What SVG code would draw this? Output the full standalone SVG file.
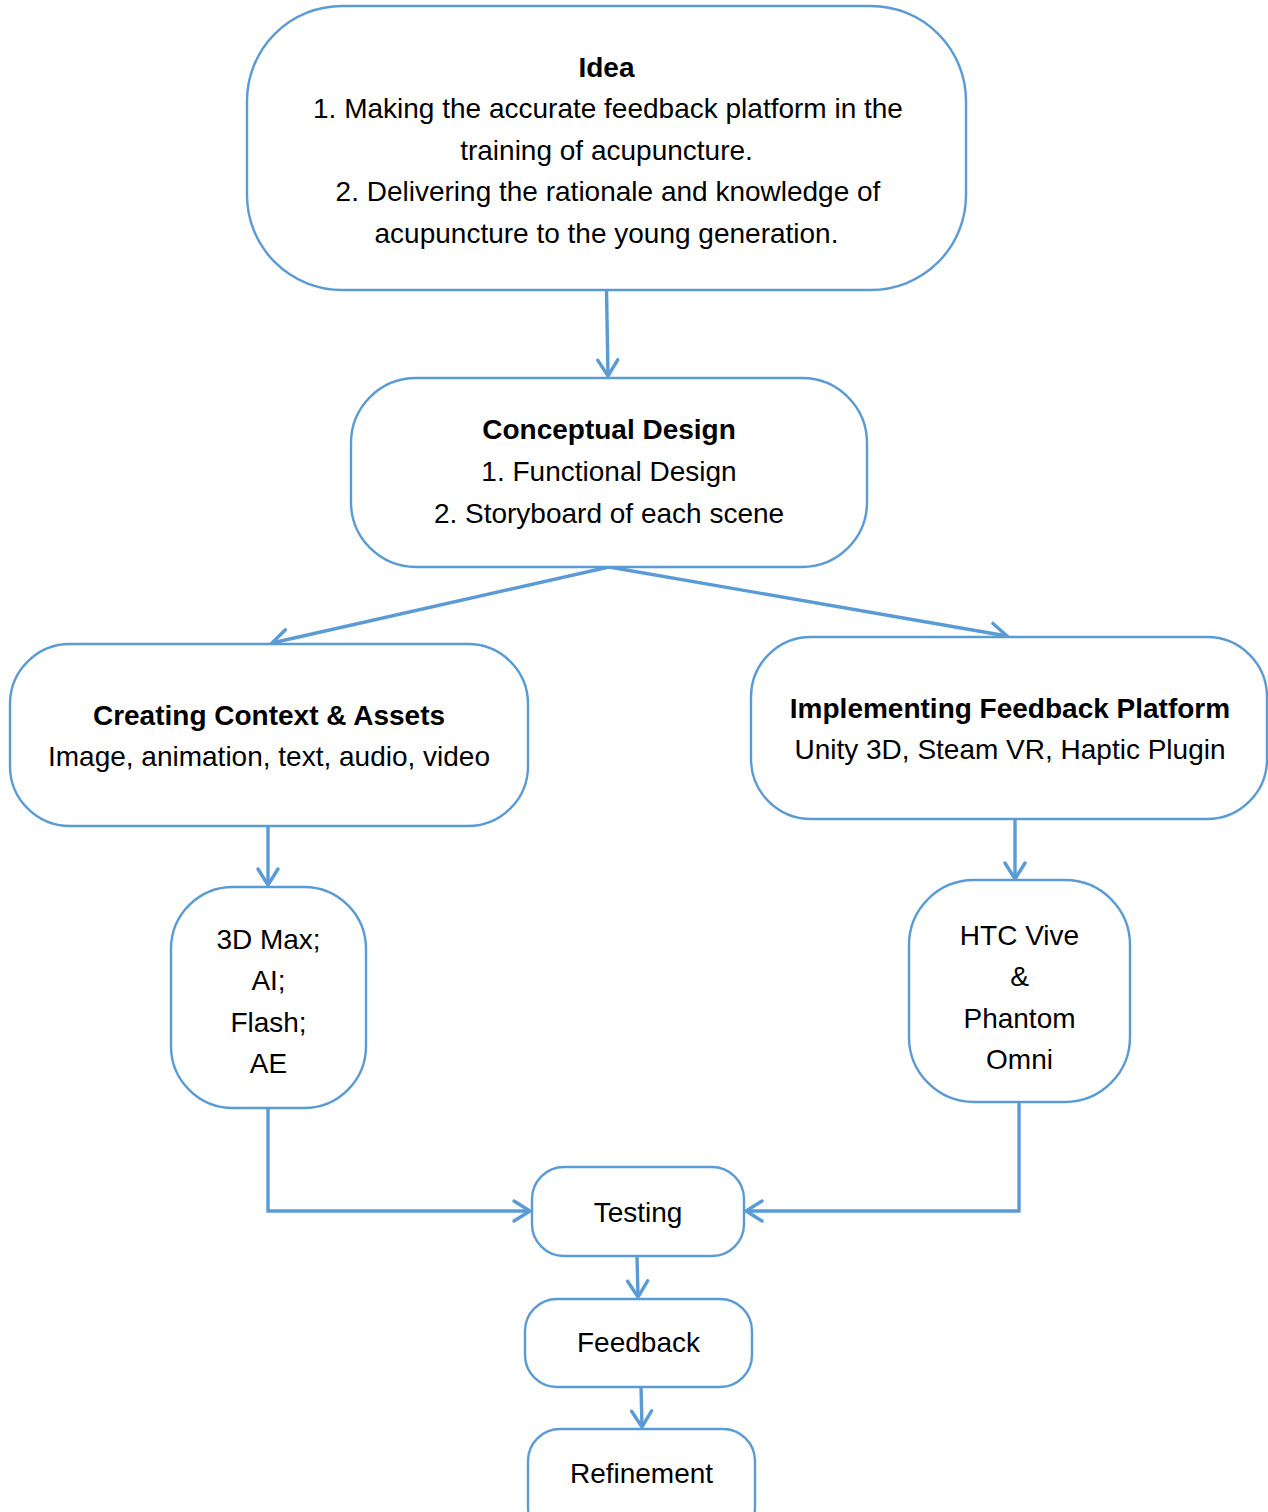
<svg xmlns="http://www.w3.org/2000/svg" width="1268" height="1512" viewBox="0 0 1268 1512">
<style>
.box{fill:#fff;stroke:#5b9bd5;stroke-width:2.4}
.c{fill:none;stroke:#5b9bd5;stroke-width:3.4}
text{font-family:"Liberation Sans",Arial,sans-serif;font-size:28px;fill:#000;text-anchor:middle}
.b{font-weight:bold}
</style>
<defs>
<marker id="ah" markerUnits="userSpaceOnUse" markerWidth="30" markerHeight="30" viewBox="-20 -15 25 30" refX="0" refY="0" orient="auto">
<path d="M-16,-10 L0,0 L-16,10" fill="none" stroke="#5b9bd5" stroke-width="3.4" stroke-linecap="round" stroke-linejoin="miter"/>
</marker>
</defs>
<rect width="1268" height="1512" fill="#fff"/>
<g id="connectors">
<path class="c" d="M606.5,290 L608,376" marker-end="url(#ah)"/>
<path class="c" d="M609,567 L272,643" marker-end="url(#ah)"/>
<path class="c" d="M609,567 L1007,636" marker-end="url(#ah)"/>
<path class="c" d="M268,826 L268,885" marker-end="url(#ah)"/>
<path class="c" d="M1015,819 L1015,879" marker-end="url(#ah)"/>
<path class="c" d="M268,1108 L268,1211 L530,1211" marker-end="url(#ah)"/>
<path class="c" d="M1019,1102 L1019,1211 L746,1211" marker-end="url(#ah)"/>
<path class="c" d="M637,1256 L638,1297" marker-end="url(#ah)"/>
<path class="c" d="M641,1387 L642,1427" marker-end="url(#ah)"/>
</g>
<g id="idea">
<rect class="box" x="247" y="6" width="719" height="284" rx="95" ry="95"/>
<text class="b" x="606.5" y="77">Idea</text>
<text x="608" y="118">1. Making the accurate feedback platform in the</text>
<text x="606.5" y="160">training of acupuncture.</text>
<text x="608" y="201">2. Delivering the rationale and knowledge of</text>
<text x="606.5" y="243">acupuncture to the young generation.</text>
</g>
<g id="conceptual">
<rect class="box" x="351" y="378" width="516" height="189" rx="65" ry="65"/>
<text class="b" x="609" y="439">Conceptual Design</text>
<text x="609" y="481">1. Functional Design</text>
<text x="609" y="523">2. Storyboard of each scene</text>
</g>
<g id="creating">
<rect class="box" x="10" y="644" width="518" height="182" rx="60" ry="60"/>
<text class="b" x="269" y="725">Creating Context &amp; Assets</text>
<text x="269" y="766">Image, animation, text, audio, video</text>
</g>
<g id="implementing">
<rect class="box" x="751" y="637" width="516" height="182" rx="60" ry="60"/>
<text class="b" x="1010" y="718">Implementing Feedback Platform</text>
<text x="1010" y="759">Unity 3D, Steam VR, Haptic Plugin</text>
</g>
<g id="tools">
<rect class="box" x="171" y="887" width="195" height="221" rx="62" ry="62"/>
<text x="268.5" y="949">3D Max;</text>
<text x="268.5" y="990">AI;</text>
<text x="268.5" y="1032">Flash;</text>
<text x="268.5" y="1073">AE</text>
</g>
<g id="hardware">
<rect class="box" x="909" y="880" width="221" height="222" rx="65" ry="65"/>
<text x="1019.5" y="945">HTC Vive</text>
<text x="1019.5" y="986">&amp;</text>
<text x="1019.5" y="1028">Phantom</text>
<text x="1019.5" y="1069">Omni</text>
</g>
<g id="testing">
<rect class="box" x="532" y="1167" width="212" height="89" rx="32" ry="32"/>
<text x="638" y="1222">Testing</text>
</g>
<g id="feedback">
<rect class="box" x="525" y="1299" width="227" height="88" rx="32" ry="32"/>
<text x="638.5" y="1352">Feedback</text>
</g>
<g id="refinement">
<rect class="box" x="528" y="1429" width="227" height="110" rx="32" ry="32"/>
<text x="641.5" y="1483">Refinement</text>
</g>
</svg>
